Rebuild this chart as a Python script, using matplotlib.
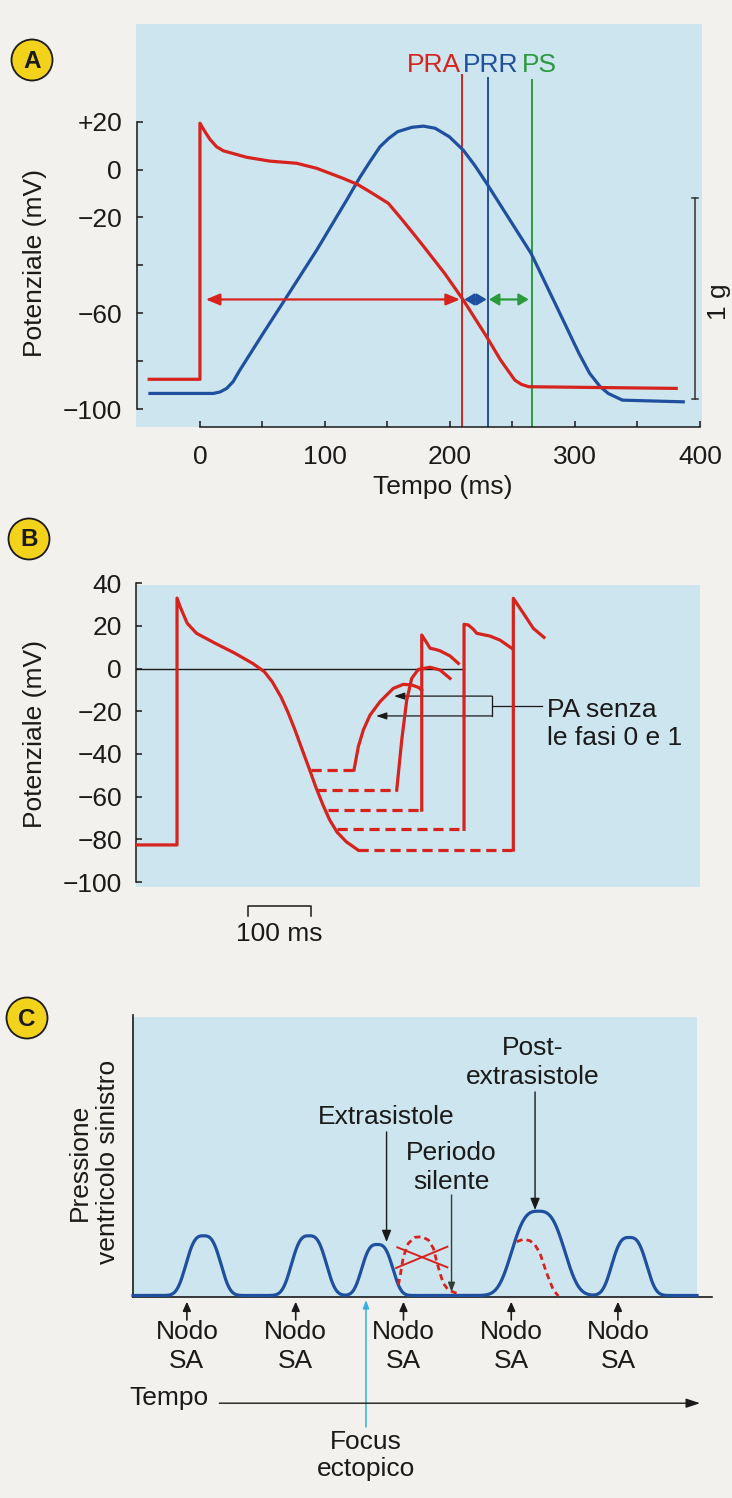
import matplotlib
matplotlib.use("Agg")
import matplotlib.pyplot as plt
from matplotlib.patches import Rectangle, Circle
from matplotlib.transforms import IdentityTransform
import numpy as np

plt.rcParams['font.family'] = ['Liberation Sans', 'DejaVu Sans']
plt.rcParams['axes.unicode_minus'] = True

RED = '#d6231e'
BLUE = '#1f4f9f'
GREEN = '#2a9a3c'
CYAN = '#35aee2'
INK = '#1a1a1a'
BG = '#cde5ee'
PAGE = '#f2f1ee'
YELLOW = '#f3d21c'
FS = 19

# ---- panel A: action potential (mV) and contraction, time in ms
a_red_t = [-40.6, 0, 0, 4, 8, 13.3, 18.7, 37.4, 56, 77.4, 93.4, 114.6, 126, 136, 150.7,
           162, 177, 195.7, 210.6, 229.4, 240.5, 248, 251.8, 257, 263, 381]
a_red_v = [-87.5, -87.5, 19.3, 15.8, 12.6, 9.5, 7.8, 5.1, 3.5, 2.6, 0.5, -3.7, -6.2, -9.3, -14.1,
           -21.1, -30.8, -43.3, -54.4, -69.8, -79.5, -85.0, -87.8, -89.6, -90.6, -91.3]
a_blue_t = [-40, 10.6, 16, 21.4, 26.5, 32, 50.6, 69.4, 93.4, 117.4, 128, 136, 144, 151, 158.2, 169.4,
            178.8, 188.2, 199.4, 210.6, 220, 229.4, 248, 264.9, 289.2, 303, 311.7, 320, 326.6,
            337.9, 386.6]
a_blue_v = [-93.4, -93.4, -92.8, -91.3, -88.5, -83.6, -68.3, -53.1, -33.6, -12.7, -3.2, 3.3, 9.5, 13.0,
            15.8, 17.6, 18.1, 17.2, 13.7, 8.1, 1.6, -5.8, -21.1, -35.0, -61.4, -76.5, -85.0, -90.5,
            -93.4, -96.2, -96.9]
a_periods = ['PRA', 'PRR', 'PS']
a_period_x = [209.6, 230.1, 266.0]
a_period_top = [39.8, 38.6, 37.8]
a_period_col = [RED, BLUE, GREEN]
a_arrow_from = [4.7, 211.4, 231.2]
a_arrow_to = [208.0, 229.4, 263.0]
a_arrow_y = -54.2
a_xticks = [0, 50, 100, 150, 200, 250, 300, 350, 400]
a_xlabels = ['0', '', '100', '', '200', '', '300', '', '400']
a_yticks = [-100, -80, -60, -40, -20, 0, 20]
a_ylabels = ['\u2212100', '', '\u221260', '', '\u221220', '0', '+20']

# ---- panel B: APs triggered during repolarisation
b_main_t = [-64.8, 0, 0, 5, 16.1, 30.8, 60.5, 90, 119.6, 138, 150, 164.3, 175, 186.4, 197,
            208.5, 219, 230.6, 241, 252.8, 267.4, 286]
b_main_v = [-82.6, -82.6, 33.0, 28.9, 21.2, 16.5, 11.8, 7.4, 2.4, -1.5, -6.0, -13.3, -20.3, -28.8,
            -37.4, -46.6, -55.3, -63.9, -70.8, -76.6, -81.1, -85.0]
b_lvl_v = [-47.5, -56.9, -66.3, -75.3, -85.0]
b_lvl_start = [211.7, 219.6, 238.5, 252.8, 286.0]
b_lvl_end = [279.6, 347.1, 386.6, 453.4, 531.3]
b_resp_t = [
    [279.6, 286.4, 294.3, 304.9, 320.7, 341.7, 357.5, 370.8, 381.2, 386.6],
    [347.1, 355.0, 362.9, 370.8, 381.2, 399.7, 415.5, 431.3],
    [386.6, 386.6, 393.4, 399.7, 407.6, 415.5, 431.3, 444.5],
    [453.4, 453.4, 460.2, 468.1, 473.5, 481.4, 494.5, 510.3, 528.8],
    [531.3, 531.3, 541.9, 552.5, 562.9, 579.8],
]
b_resp_v = [
    [-47.5, -36.6, -28.8, -21.8, -15.5, -9.3, -7.4, -7.7, -8.8, -10.1],
    [-56.9, -33.5, -14.8, -4.6, -0.4, 0.6, -0.7, -4.6],
    [-66.3, 15.7, 12.6, 9.5, 9.0, 8.3, 5.9, 2.4],
    [-75.3, 20.7, 20.4, 18.4, 16.5, 16.0, 15.2, 13.3, 9.5],
    [-85.0, 32.9, 28.2, 23.5, 18.8, 14.6],
]
b_yticks = [-100, -80, -60, -40, -20, 0, 20, 40]

# ---- panel C: ventricular pressure, time in beat periods
c_sa = [0.50, 1.51, 2.51, 3.51, 4.50]
c_beat_t = [0.654, 1.633, 2.267, 3.761, 4.605]
c_beat_h = [0.995, 0.995, 0.85, 1.405, 0.967]
c_beat_w = [0.188, 0.188, 0.168, 0.285, 0.188]
c_miss_t = [2.462, 2.478, 2.509, 2.555, 2.617, 2.679, 2.741, 2.787, 2.819, 2.849,
            2.880, 2.926, 2.988, 3.035]
c_miss_p = [0.20, 0.338, 0.672, 0.895, 0.995, 1.005, 0.95, 0.812, 0.588, 0.395,
            0.228, 0.117, 0.072, 0.05]
c_late_t = [3.561, 3.622, 3.684, 3.731, 3.777, 3.808, 3.839, 3.870, 3.901, 3.947]
c_late_p = [0.922, 0.962, 0.938, 0.867, 0.728, 0.562, 0.395, 0.255, 0.117, 0.017]
c_focus_t = 2.162

W, H = 732, 1498
fig = plt.figure(figsize=(W / 100, H / 100), dpi=100)
fig.patch.set_facecolor(PAGE)


def fbox(x0, y0, x1, y1):
    return [x0 / W, 1 - y1 / H, (x1 - x0) / W, (y1 - y0) / H]


def ftext(x, y, s, **kw):
    fig.text(x / W, 1 - y / H, s, **kw)


def blue_bg(x0, y0, x1, y1):
    fig.add_artist(Rectangle((x0 / W, 1 - y1 / H), (x1 - x0) / W, (y1 - y0) / H,
                             transform=fig.transFigure, facecolor=BG,
                             edgecolor='none', zorder=-10))


def badge(x, y, letter):
    fig.add_artist(Circle((x, H - y), 20.5, transform=IdentityTransform(),
                          facecolor=YELLOW, edgecolor=INK, lw=1.3, zorder=5))
    ftext(x, y + 1, letter, ha='center', va='center', fontsize=17.5,
          fontweight='bold', color=INK, zorder=6)


def arrow(ax, x0, y0, x1, y1, color=INK, lw=1.0, style='-|>,head_length=0.5,head_width=0.2', ms=14):
    ax.annotate('', xy=(x1, y1), xytext=(x0, y0), annotation_clip=False,
                arrowprops=dict(arrowstyle=style, color=color, lw=lw,
                                mutation_scale=ms, shrinkA=0, shrinkB=0))


# ================= A =================
blue_bg(136, 24, 702, 427)
axA = fig.add_axes(fbox(136.7, 24, 702, 427))
axA.set_facecolor('none')
axA.set_xlim(-50.6, 401.6)
axA.set_ylim(-107.4, 60.7)
for s in ['top', 'right']:
    axA.spines[s].set_visible(False)
axA.spines['left'].set_bounds(-100, 20)
axA.spines['bottom'].set_bounds(0, 400)
for s in ['left', 'bottom']:
    axA.spines[s].set_linewidth(1.1)
    axA.spines[s].set_color(INK)
axA.set_xticks(a_xticks)
axA.set_xticklabels(a_xlabels)
axA.set_yticks(a_yticks)
axA.set_yticklabels(a_ylabels)
axA.tick_params(axis='both', direction='in', length=4.5, width=1.1, color=INK,
                labelsize=FS, labelcolor=INK)
axA.tick_params(axis='x', pad=13)
axA.tick_params(axis='y', pad=10.5)

axA.plot(a_blue_t, a_blue_v, color=BLUE, lw=2.3, solid_joinstyle='round', zorder=3)
axA.plot(a_red_t, a_red_v, color=RED, lw=2.3, solid_joinstyle='round', zorder=4)
axA.vlines(a_period_x, -107.4, a_period_top, colors=a_period_col, lw=1.4, zorder=2)
for lab, x, c in zip(a_periods, [209.0, 232.8, 271.6], a_period_col):
    axA.text(x, 43.6, lab, color=c, fontsize=FS, ha='right' if lab == 'PRA' else 'center',
             va='center')
for x0, x1, c in zip(a_arrow_from, a_arrow_to, a_period_col):
    hl = 0.6 if c == RED else 0.42
    arrow(axA, x0, a_arrow_y, x1, a_arrow_y, color=c, lw=1.6,
          style='<|-|>,head_length=%.2f,head_width=0.25' % hl)
# 1 g scale bar
axA.plot([396, 396], [-11.9, -95.7], color='#333333', lw=1.1, clip_on=False)
axA.plot([393.6, 398.4], [-11.9, -11.9], color='#333333', lw=1.1, clip_on=False)
axA.plot([393.6, 398.4], [-95.7, -95.7], color='#333333', lw=1.1, clip_on=False)
axA.text(415.5, -55.2, '1 g', rotation=90, ha='center', va='center', fontsize=FS,
         color=INK, clip_on=False)
ftext(35, 263, 'Potenziale (mV)', rotation=90, ha='center', va='center', fontsize=FS, color=INK)
ftext(443, 487, 'Tempo (ms)', ha='center', va='center', fontsize=FS, color=INK)
badge(32, 60, 'A')

# ================= B =================
blue_bg(136, 585, 700, 887)
axB = fig.add_axes(fbox(136, 575, 700, 890))
axB.set_facecolor('none')
axB.set_xlim(-64.8, 826.2)
axB.set_ylim(-103.7, 43.8)
for s in ['top', 'right', 'bottom']:
    axB.spines[s].set_visible(False)
axB.spines['left'].set_bounds(-100, 40)
axB.spines['left'].set_linewidth(1.1)
axB.spines['left'].set_color(INK)
axB.set_xticks([])
axB.set_yticks(b_yticks)
axB.set_yticklabels([('\u2212%d' % -v) if v < 0 else '%d' % v for v in b_yticks])
axB.tick_params(axis='y', direction='in', length=4.5, width=1.1, color=INK,
                labelsize=FS, labelcolor=INK, pad=10)

axB.plot([-64.8, 453.4], [0, 0], color=INK, lw=1.0, zorder=2)
axB.plot(b_main_t, b_main_v, color=RED, lw=2.3, solid_joinstyle='round', zorder=4)
for v, t0, t1 in zip(b_lvl_v, b_lvl_start, b_lvl_end):
    axB.plot([t0, t1], [v, v], color=RED, lw=2.3, dashes=(3.2, 1.8), zorder=4)
for tt, vv in zip(b_resp_t, b_resp_v):
    axB.plot(tt, vv, color=RED, lw=2.3, solid_joinstyle='round', zorder=4)
# "PA senza le fasi 0 e 1" callout
axB.plot([497.2, 497.2], [-12.9, -22.2], color=INK, lw=0.9)
axB.plot([497.2, 576.1], [-17.6, -17.6], color=INK, lw=0.9)
arrow(axB, 497.2, -12.9, 342.8, -12.9, lw=0.9, style='-|>,head_length=0.45,head_width=0.15')
arrow(axB, 497.2, -22.2, 314.4, -22.2, lw=0.9, style='-|>,head_length=0.45,head_width=0.15')
axB.text(584.5, -26.0, 'PA senza\nle fasi 0 e 1', ha='left', va='center', fontsize=FS,
         color=INK, linespacing=1.2)
# 100 ms scale bar
axB.plot([111.7, 111.7, 211.7, 211.7], [-115.9, -111.2, -111.2, -115.9], color=INK,
         lw=1.1, clip_on=False)
axB.text(161.7, -124.3, '100 ms', ha='center', va='center', fontsize=FS, color=INK,
         clip_on=False)
ftext(35, 734, 'Potenziale (mV)', rotation=90, ha='center', va='center', fontsize=FS, color=INK)
badge(29, 539, 'B')

# ================= C =================
blue_bg(133, 1017, 697, 1297)
axC = fig.add_axes(fbox(133, 1015, 712, 1297))
axC.set_facecolor('none')
axC.set_xlim(0, 5.373)
axC.set_ylim(0, 4.7)
for s in ['top', 'right']:
    axC.spines[s].set_visible(False)
for s in ['left', 'bottom']:
    axC.spines[s].set_linewidth(1.2)
    axC.spines[s].set_color(INK)
axC.set_xticks([])
axC.set_yticks([])

tg = np.linspace(0, 5.234, 1200)
pres = np.full_like(tg, 0.025)
for c, h, w in zip(c_beat_t, c_beat_h, c_beat_w):
    pres += h * np.exp(-np.abs((tg - c) / w) ** 3)
axC.plot(tg, pres, color=BLUE, lw=2.3, zorder=4, clip_on=False)
axC.plot(c_miss_t, c_miss_p, color=RED, lw=2.0, dashes=(2.2, 1.5), zorder=5)
axC.plot(c_late_t, c_late_p, color=RED, lw=2.0, dashes=(2.2, 1.5), zorder=5)
axC.plot([2.453, 2.917], [0.828, 0.495], color=RED, lw=1.4, zorder=5)
axC.plot([2.441, 2.917], [0.483, 0.838], color=RED, lw=1.4, zorder=5)

axC.text(3.712, 3.908, 'Post-\nextrasistole', ha='center', va='center', fontsize=FS,
         color=INK, linespacing=1.25)
arrow(axC, 3.731, 3.417, 3.731, 1.45)
axC.text(2.348, 3.0, 'Extrasistole', ha='center', va='center', fontsize=FS, color=INK)
arrow(axC, 2.353, 2.75, 2.353, 0.917)
axC.text(2.956, 2.158, 'Periodo\nsilente', ha='center', va='center', fontsize=FS,
         color=INK, linespacing=1.25)
arrow(axC, 2.956, 1.70, 2.956, 0.083, color='#2f3f35', style='-|>,head_length=0.4,head_width=0.15')
for t in c_sa:
    arrow(axC, t, -0.383, t, -0.078, lw=1.2, style='-|>,head_length=0.45,head_width=0.2', ms=12)
    axC.text(t, -0.83, 'Nodo\nSA', ha='center', va='center', fontsize=FS, color=INK,
             linespacing=1.25, clip_on=False)
arrow(axC, c_focus_t, -2.167, c_focus_t, -0.05, color=CYAN, lw=1.1,
      style='-|>,head_length=0.4,head_width=0.15', ms=12)
axC.text(c_focus_t, -2.64, 'Focus\nectopico', ha='center', va='center', fontsize=FS,
         color=INK, linespacing=1.12, clip_on=False)
axC.text(-0.034, -1.683, 'Tempo', ha='left', va='center', fontsize=FS, color=INK,
         clip_on=False)
arrow(axC, 0.801, -1.77, 5.262, -1.77, lw=1.0, style='-|>,head_length=0.6,head_width=0.2')
ftext(94, 1162, 'Pressione\nventricolo sinistro', rotation=90, ha='center', va='center',
      fontsize=FS, color=INK, linespacing=1.2, multialignment='center')
badge(27, 1018, 'C')

fig.savefig('out.png', dpi=100, facecolor=PAGE)
